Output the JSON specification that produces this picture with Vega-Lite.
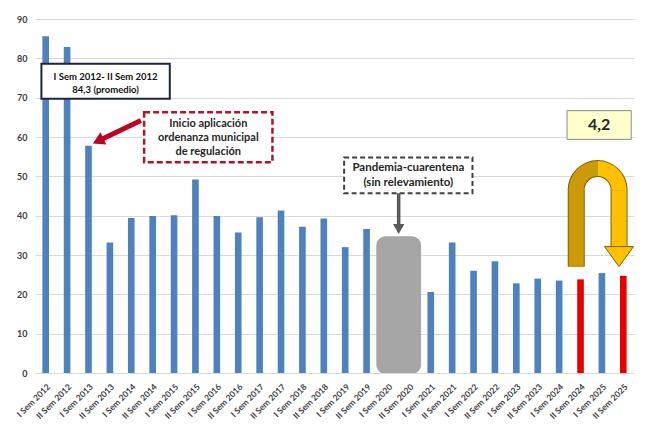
{
  "$schema": "https://vega.github.io/schema/vega-lite/v6.json",
  "width": 599,
  "height": 354,
  "autosize": {"type": "none"},
  "padding": {"left": 35, "top": 19, "right": 20, "bottom": 59},
  "background": "white",
  "config": {
    "view": {"stroke": null},
    "font": "Lato",
    "axis": {"labelFont": "Lato", "labelFontWeight": "bold", "labelColor": "#404040"},
    "axisY": {"tickCount": 9, "labelOverlap": false, "labelFontSize": 9, "ticks": false, "domain": false, "labelPadding": 8, "gridColor": "#d9d9d9"},
    "axisX": {"labelAngle": -45, "labelFontSize": 8.5, "ticks": false, "labelPadding": 9, "domainColor": "#d9d9d9", "grid": false, "labelOverlap": false}
  },
  "layer": [
    {
      "data": {"values": [{"cat": "I Sem 2020", "cat2": "I Sem 2021", "v": 34.5, "v2": 0}]},
      "mark": {"type": "rect", "color": "#a6a6a6", "stroke": "#a6a6a6", "strokeWidth": 2, "cornerRadius": 8},
      "encoding": {
        "x": {"field": "cat", "type": "nominal", "bandPosition": 0, "title": null},
        "x2": {"field": "cat2", "bandPosition": 0},
        "y": {"field": "v", "type": "quantitative", "title": null},
        "y2": {"field": "v2"}
      }
    },
    {
      "data": {"values": [
        {"cat": "I Sem 2012", "v": 85.6, "g": "base"},
        {"cat": "II Sem 2012", "v": 82.9, "g": "base"},
        {"cat": "I Sem 2013", "v": 57.8, "g": "base"},
        {"cat": "II Sem 2013", "v": 33.2, "g": "base"},
        {"cat": "I Sem 2014", "v": 39.4, "g": "base"},
        {"cat": "II Sem 2014", "v": 39.9, "g": "base"},
        {"cat": "I Sem 2015", "v": 40.1, "g": "base"},
        {"cat": "II Sem 2015", "v": 49.2, "g": "base"},
        {"cat": "I Sem 2016", "v": 39.9, "g": "base"},
        {"cat": "II Sem 2016", "v": 35.7, "g": "base"},
        {"cat": "I Sem 2017", "v": 39.6, "g": "base"},
        {"cat": "II Sem 2017", "v": 41.3, "g": "base"},
        {"cat": "I Sem 2018", "v": 37.2, "g": "base"},
        {"cat": "II Sem 2018", "v": 39.3, "g": "base"},
        {"cat": "I Sem 2019", "v": 32.0, "g": "base"},
        {"cat": "II Sem 2019", "v": 36.6, "g": "base"},
        {"cat": "I Sem 2020", "v": null, "g": "base"},
        {"cat": "II Sem 2020", "v": null, "g": "base"},
        {"cat": "I Sem 2021", "v": 20.6, "g": "base"},
        {"cat": "II Sem 2021", "v": 33.2, "g": "base"},
        {"cat": "I Sem 2022", "v": 26.0, "g": "base"},
        {"cat": "II Sem 2022", "v": 28.4, "g": "base"},
        {"cat": "I Sem 2023", "v": 22.8, "g": "base"},
        {"cat": "II Sem 2023", "v": 24.0, "g": "base"},
        {"cat": "I Sem 2024", "v": 23.5, "g": "base"},
        {"cat": "II Sem 2024", "v": 23.8, "g": "destacado"},
        {"cat": "I Sem 2025", "v": 25.4, "g": "base"},
        {"cat": "II Sem 2025", "v": 24.7, "g": "destacado"}
      ]},
      "mark": {"type": "bar", "width": {"band": 0.31}},
      "encoding": {
        "x": {
          "field": "cat", "type": "nominal", "title": null,
          "scale": {"type": "band", "paddingInner": 0, "paddingOuter": 0,
            "domain": ["I Sem 2012","II Sem 2012","I Sem 2013","II Sem 2013","I Sem 2014","II Sem 2014","I Sem 2015","II Sem 2015","I Sem 2016","II Sem 2016","I Sem 2017","II Sem 2017","I Sem 2018","II Sem 2018","I Sem 2019","II Sem 2019","I Sem 2020","II Sem 2020","I Sem 2021","II Sem 2021","I Sem 2022","II Sem 2022","I Sem 2023","II Sem 2023","I Sem 2024","II Sem 2024","I Sem 2025","II Sem 2025"]}
        },
        "y": {
          "field": "v", "type": "quantitative", "title": null,
          "scale": {"domain": [0, 90], "nice": false}
        },
        "color": {"field": "g", "type": "nominal", "legend": null,
          "scale": {"domain": ["base", "destacado"], "range": ["#4f81bd", "#e60000"]}}
      }
    },
    {
      "data": {"values": [{"cat": "I Sem 2012", "cat2": "I Sem 2015", "v": 78.6, "v2": 69.7}]},
      "mark": {"type": "rect", "fill": "white", "stroke": "#1c2640", "strokeWidth": 2},
      "encoding": {
        "x": {"field": "cat", "type": "nominal", "bandPosition": 0.3},
        "x2": {"field": "cat2", "bandPosition": 0.3},
        "y": {"field": "v", "type": "quantitative"},
        "y2": {"field": "v2"}
      }
    },
    {
      "data": {"values": [{"cat": "II Sem 2013", "v": 75.3, "t": "I Sem 2012- II Sem 2012\n84,3 (promedio)"}]},
      "mark": {"type": "text", "lineBreak": "\n", "fontSize": 9.5, "fontWeight": "bold", "color": "#111111", "baseline": "middle", "align": "center", "lineHeight": 13.5},
      "encoding": {
        "x": {"field": "cat", "type": "nominal", "bandPosition": 0.3},
        "y": {"field": "v", "type": "quantitative"},
        "text": {"field": "t"}
      }
    },
    {
      "data": {"values": [{"cat": "II Sem 2014", "cat2": "II Sem 2017", "v": 66.3, "v2": 53.6}]},
      "mark": {"type": "rect", "fill": "white", "stroke": "#b0142a", "strokeWidth": 2.5, "strokeDash": [6, 3]},
      "encoding": {
        "x": {"field": "cat", "type": "nominal", "bandPosition": 0.1},
        "x2": {"field": "cat2", "bandPosition": 0.1},
        "y": {"field": "v", "type": "quantitative"},
        "y2": {"field": "v2"}
      }
    },
    {
      "data": {"values": [{"cat": "I Sem 2016", "v": 63.3, "t": "Inicio aplicación\nordenanza municipal\nde regulación"}]},
      "mark": {"type": "text", "lineBreak": "\n", "fontSize": 11, "fontWeight": "bold", "color": "#262626", "baseline": "middle", "align": "center", "lineHeight": 14},
      "encoding": {
        "x": {"field": "cat", "type": "nominal", "bandPosition": 0.1},
        "y": {"field": "v", "type": "quantitative"},
        "text": {"field": "t"}
      }
    },
    {
      "data": {"values": [{"cat": "I Sem 2014", "cat2": "I Sem 2013", "v": 64.2, "v2": 59.0}]},
      "mark": {"type": "rule", "color": "#c00020", "strokeWidth": 5},
      "encoding": {
        "x": {"field": "cat", "type": "nominal", "bandPosition": 0.95},
        "x2": {"field": "cat2", "bandPosition": 0.95},
        "y": {"field": "v", "type": "quantitative"},
        "y2": {"field": "v2"}
      }
    },
    {
      "data": {"values": [{"cat": "I Sem 2013", "v": 59.0}]},
      "mark": {"type": "point", "shape": "triangle-up", "filled": true, "opacity": 1, "color": "#c00020", "size": 180, "angle": 244},
      "encoding": {
        "x": {"field": "cat", "type": "nominal", "bandPosition": 0.95},
        "y": {"field": "v", "type": "quantitative"}
      }
    },
    {
      "data": {"values": [{"cat": "I Sem 2019", "cat2": "I Sem 2022", "v": 54.8, "v2": 45.7}]},
      "mark": {"type": "rect", "fill": "white", "stroke": "#404040", "strokeWidth": 2, "strokeDash": [5, 3]},
      "encoding": {
        "x": {"field": "cat", "type": "nominal", "bandPosition": 0.45},
        "x2": {"field": "cat2", "bandPosition": 0.45},
        "y": {"field": "v", "type": "quantitative"},
        "y2": {"field": "v2"}
      }
    },
    {
      "data": {"values": [{"cat": "II Sem 2020", "v": 52.0, "t": "Pandemia-cuarentena\n(sin relevamiento)"}]},
      "mark": {"type": "text", "lineBreak": "\n", "fontSize": 11.5, "fontWeight": "bold", "color": "#262626", "baseline": "middle", "align": "center", "lineHeight": 15},
      "encoding": {
        "x": {"field": "cat", "type": "nominal", "bandPosition": 0.45},
        "y": {"field": "v", "type": "quantitative"},
        "text": {"field": "t"}
      }
    },
    {
      "data": {"values": [{"cat": "I Sem 2020", "v": 45.7, "v2": 37.5}]},
      "mark": {"type": "rule", "color": "#595959", "strokeWidth": 3.5},
      "encoding": {
        "x": {"field": "cat", "type": "nominal", "bandPosition": 1},
        "y": {"field": "v", "type": "quantitative"},
        "y2": {"field": "v2"}
      }
    },
    {
      "data": {"values": [{"cat": "I Sem 2020", "v": 36.6}]},
      "mark": {"type": "point", "shape": "triangle-down", "filled": true, "opacity": 1, "color": "#595959", "size": 130},
      "encoding": {
        "x": {"field": "cat", "type": "nominal", "bandPosition": 1},
        "y": {"field": "v", "type": "quantitative"}
      }
    },
    {
      "data": {"values": [{"cat": "I Sem 2024", "cat2": "II Sem 2025", "v": 66.7, "v2": 59.4}]},
      "mark": {"type": "rect", "fill": "#ffffcc", "stroke": "#8c8c8c", "strokeWidth": 1},
      "encoding": {
        "x": {"field": "cat", "type": "nominal", "bandPosition": 0.87},
        "x2": {"field": "cat2", "bandPosition": 0.87},
        "y": {"field": "v", "type": "quantitative"},
        "y2": {"field": "v2"}
      }
    },
    {
      "data": {"values": [{"cat": "I Sem 2025", "v": 63.0, "t": "4,2"}]},
      "mark": {"type": "text", "fontSize": 16, "fontWeight": "bold", "color": "#262626", "baseline": "middle", "align": "center"},
      "encoding": {
        "x": {"field": "cat", "type": "nominal", "bandPosition": 0.37},
        "y": {"field": "v", "type": "quantitative"},
        "text": {"field": "t"}
      }
    },
    {
      "data": {"values": [{"cat": "II Sem 2024", "v": 27.0, "v2": 46.5}, {"cat": "II Sem 2025", "v": 46.5, "v2": 32.1}]},
      "mark": {"type": "rule", "color": "#7f6000", "strokeWidth": 17},
      "encoding": {
        "x": {"field": "cat", "type": "nominal", "bandPosition": 0.3},
        "y": {"field": "v", "type": "quantitative"},
        "y2": {"field": "v2"}
      }
    },
    {
      "data": {"values": [{"cat": "I Sem 2025", "v": 46.5}]},
      "mark": {"type": "arc", "color": "#7f6000", "theta": -1.5708, "theta2": 1.5708, "radius": 30, "radius2": 13},
      "encoding": {
        "x": {"field": "cat", "type": "nominal", "bandPosition": 0.3},
        "y": {"field": "v", "type": "quantitative"}
      }
    },
    {
      "data": {"values": [{"cat": "II Sem 2024", "v": 27.0, "v2": 46.5}]},
      "mark": {"type": "rule", "strokeWidth": 15, "color": "#cc9a06"},
      "encoding": {
        "x": {"field": "cat", "type": "nominal", "bandPosition": 0.3},
        "y": {"field": "v", "type": "quantitative"},
        "y2": {"field": "v2"}
      }
    },
    {
      "data": {"values": [{"cat": "II Sem 2025", "v": 46.5, "v2": 32.1}]},
      "mark": {"type": "rule", "strokeWidth": 15, "color": "#ffc000"},
      "encoding": {
        "x": {"field": "cat", "type": "nominal", "bandPosition": 0.3},
        "y": {"field": "v", "type": "quantitative"},
        "y2": {"field": "v2"}
      }
    },
    {
      "data": {"values": [{"cat": "I Sem 2025", "v": 46.5}]},
      "mark": {"type": "arc", "color": "#cc9a06", "theta": -1.5708, "theta2": 0, "radius": 29, "radius2": 14},
      "encoding": {
        "x": {"field": "cat", "type": "nominal", "bandPosition": 0.3},
        "y": {"field": "v", "type": "quantitative"}
      }
    },
    {
      "data": {"values": [{"cat": "I Sem 2025", "v": 46.5}]},
      "mark": {"type": "arc", "color": "#ffc000", "theta": 0, "theta2": 1.5708, "radius": 29, "radius2": 14},
      "encoding": {
        "x": {"field": "cat", "type": "nominal", "bandPosition": 0.3},
        "y": {"field": "v", "type": "quantitative"}
      }
    },
    {
      "data": {"values": [{"cat": "II Sem 2025", "v": 29.6}]},
      "mark": {"type": "point", "shape": "M-1,-0.69L1,-0.69L0,0.69Z", "filled": true, "opacity": 1, "fill": "#ffc000", "stroke": "#7f6000", "strokeWidth": 1, "size": 841},
      "encoding": {
        "x": {"field": "cat", "type": "nominal", "bandPosition": 0.3},
        "y": {"field": "v", "type": "quantitative"}
      }
    }
  ]
}
